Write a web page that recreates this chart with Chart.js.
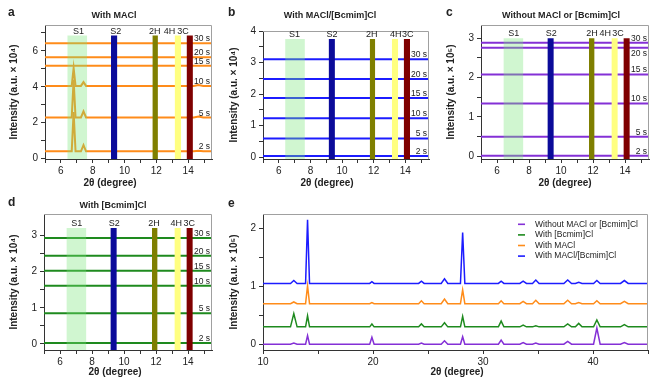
<!DOCTYPE html>
<html>
<head>
<meta charset="utf-8">
<script src="https://cdn.jsdelivr.net/npm/chart.js@4.4.0/dist/chart.umd.min.js"></script>
<style>
  body { margin: 0; background: #fff; }
  #fig { position: relative; width: 657px; height: 382px; overflow: hidden;
         font-family: 'Liberation Sans', Arial, sans-serif; color: #222; }
  #fig canvas { position: absolute; }
  .tag { position: absolute; font-weight: bold; font-size: 12px; line-height: 13px; }
  .ttl { position: absolute; font-weight: bold; font-size: 9px; line-height: 10px;
         transform: translateX(-50%); white-space: nowrap; }
  .xt  { position: absolute; font-weight: bold; font-size: 10px; line-height: 12px;
         transform: translateX(-50%); white-space: nowrap; }
</style>
</head>
<body>
<div id="fig">
  <canvas id="pa" width="220" height="190" style="left:0;top:0"></canvas>
  <canvas id="pb" width="220" height="190" style="left:220px;top:0"></canvas>
  <canvas id="pc" width="220" height="190" style="left:437px;top:0"></canvas>
  <canvas id="pd" width="220" height="192" style="left:0;top:190px"></canvas>
  <canvas id="pe" width="437" height="192" style="left:220px;top:190px"></canvas>

  <div class="tag" style="left:8px;top:6px">a</div>
  <div class="tag" style="left:228px;top:6px">b</div>
  <div class="tag" style="left:446px;top:6px">c</div>
  <div class="tag" style="left:8px;top:196px">d</div>
  <div class="tag" style="left:228px;top:197px">e</div>

  <div class="ttl" style="left:114px;top:10px">With MACl</div>
  <div class="ttl" style="left:330px;top:10px">With MACl/[Bcmim]Cl</div>
  <div class="ttl" style="left:561px;top:10px">Without MACl or [Bcmim]Cl</div>
  <div class="ttl" style="left:113px;top:200px">With [Bcmim]Cl</div>

  <div class="xt" style="left:110px;top:177px">2θ (degree)</div>
  <div class="xt" style="left:327px;top:177px">2θ (degree)</div>
  <div class="xt" style="left:565px;top:177px">2θ (degree)</div>
  <div class="xt" style="left:115px;top:366px">2θ (degree)</div>
  <div class="xt" style="left:457px;top:366px">2θ (degree)</div>
</div>

<script>
// ---------- data ----------
// panels a-d: in-situ scans between 5 and 15.5 degrees
const xWindow = [5, 15.5];
const phaseNames = ['S1', 'S2', '2H', '4H', '3C'];
const phaseFrom = [6.4, 9.15, 11.75, 13.15, 13.9];
const phaseTo = [7.65, 9.55, 12.1, 13.55, 14.3];
const timeLabels = ['2 s', '5 s', '10 s', '15 s', '20 s', '30 s'];

// baseline of each time trace (a, b, d in 10^4, c in 10^5)
const maclBase = [0.41, 2.29, 4.05, 5.17, 5.65, 6.43];
const mixBase = [0.03, 0.59, 1.23, 1.87, 2.48, 3.10];
const noneBase = [0.01, 0.49, 1.34, 2.08, 2.76, 2.89];
const bcmBase = [0.03, 0.85, 1.61, 2.02, 2.44, 2.93];

// panel a: S1 reflections (position, top of each trace)
const maclPeakPos = [6.8, 7.42, 14.65];
const maclPeakWidth = [0.12, 0.16, 0.3];
const maclPeakTop = [
  [2.60, 0.75, 0.44],
  [4.39, 2.63, 2.34],
  [5.04, 4.26, 4.10],
  [], [], []
];

// panel e: final films, offset traces (10^5)
const eSeries = ['Without MACl or [Bcmim]Cl', 'With [Bcmim]Cl', 'With MACl', 'With MACl/[Bcmim]Cl'];
const eBase = [0.0, 0.30, 0.70, 1.05];
const ePeakPos = [12.8, 14.05, 19.9, 24.4, 26.5, 28.15, 31.65, 33.65, 34.8, 37.7, 38.7, 40.35, 42.85];
const ePeakWidth = [0.3, 0.18, 0.2, 0.25, 0.3, 0.2, 0.25, 0.3, 0.3, 0.35, 0.3, 0.3, 0.35];
const eNoneTop = [0.02, 0.15, 0.12, 0.02, 0.06, 0.13, 0.07, 0.03, 0.02, 0.05, 0.0, 0.28, 0.03];
const eBcmTop = [0.53, 0.49, 0.35, 0.35, 0.37, 0.48, 0.40, 0.33, 0.32, 0.35, 0.36, 0.42, 0.34];
const eMaclTop = [0.73, 1.01, 0.72, 0.75, 0.78, 0.94, 0.75, 0.74, 0.76, 0.76, 0.72, 0.75, 0.74];
const eMixTop = [1.10, 2.15, 1.08, 1.09, 1.13, 1.93, 1.09, 1.09, 1.11, 1.11, 1.07, 1.10, 1.10];

// ticks
const smallXTicks = [5, 6, 7, 8, 9, 10, 11, 12, 13, 14, 15];
const smallXLabels = [6, 8, 10, 12, 14];
const aYTicks = [0, 1, 2, 3, 4, 5, 6, 7];
const aYLabels = [0, 2, 4, 6];
const bYTicks = [0, 0.5, 1, 1.5, 2, 2.5, 3, 3.5, 4];
const bYLabels = [0, 1, 2, 3, 4];
const cdYTicks = [0, 0.5, 1, 1.5, 2, 2.5, 3];
const cdYLabels = [0, 1, 2, 3];
const eXTicks = [10, 15, 20, 25, 30, 35, 40, 45];
const eXLabels = [10, 20, 30, 40];
const eYTicks = [0, 0.5, 1, 1.5, 2];
const eYLabels = [0, 1, 2];

// ---------- styles ----------
const FONT = "'Liberation Sans', Arial, sans-serif";
Chart.defaults.font.family = FONT;
Chart.defaults.color = '#222';

const COL = { macl: '#ff8c1a', mix: '#1c1cff', none: '#8430d6', bcm: '#1e8a1e' };
const PHASE_COLORS = ['rgba(120,230,120,0.35)', '#0b0b9a', '#7f7f00', '#ffff80', '#7f0000'];

function buildTrace(base, pos, tops, widths, range) {
  const pts = [{ x: range[0], y: base }];
  pos.forEach((p, k) => {
    const t = tops[k];
    if (t === undefined || t <= base) return;
    pts.push({ x: p - widths[k], y: base }, { x: p, y: t }, { x: p + widths[k], y: base });
  });
  pts.push({ x: range[1], y: base });
  return pts;
}

function phaseBands(top, yMin) {
  return phaseNames.map((n, i) => ({
    label: n,
    data: [{ x: phaseFrom[i], y: top }, { x: phaseTo[i], y: top }],
    backgroundColor: PHASE_COLORS[i],
    borderColor: 'rgba(0,0,0,0)',
    fill: { value: yMin },
    order: 0
  }));
}

function timeTraces(bases, color, peaksFor) {
  return bases.map((b, i) => ({
    label: timeLabels[i],
    data: peaksFor ? peaksFor(b, i) : buildTrace(b, [], [], [], xWindow),
    borderColor: color,
    borderWidth: 2,
    fill: false,
    order: 1
  }));
}

// labels, frame and inner legend
const marksPlugin = {
  id: 'marks',
  afterDatasetsDraw(chart, args, opts) {
    const { ctx, chartArea: ca } = chart;
    const x = chart.scales.x, y = chart.scales.y;
    ctx.save();
    ctx.strokeStyle = '#a0a0a0';
    ctx.lineWidth = 1;
    ctx.beginPath();
    ctx.moveTo(ca.left, Math.round(ca.top) + 0.5);
    ctx.lineTo(Math.round(ca.right) - 0.5, Math.round(ca.top) + 0.5);
    ctx.lineTo(Math.round(ca.right) - 0.5, ca.bottom);
    ctx.stroke();

    ctx.fillStyle = '#222';
    if (opts.phaseX) {
      ctx.font = '9px ' + FONT;
      ctx.textAlign = 'center';
      ctx.textBaseline = 'alphabetic';
      opts.phaseX.forEach((v, i) => {
        ctx.fillText(phaseNames[i], x.getPixelForValue(v), y.getPixelForValue(opts.bandTop) - 2);
      });
    }
    if (opts.base) {
      ctx.font = '8.5px ' + FONT;
      ctx.textAlign = 'right';
      opts.base.forEach((b, i) => {
        const py = y.getPixelForValue(b);
        const below = (opts.below || []).includes(i);
        ctx.textBaseline = below ? 'top' : 'alphabetic';
        ctx.fillText(timeLabels[i], ca.right - 2, below ? py + 2 : py - 2);
      });
    }
    if (opts.legend) {
      ctx.font = '8.5px ' + FONT;
      ctx.textAlign = 'left';
      ctx.textBaseline = 'middle';
      chart.data.datasets.forEach((ds, i) => {
        const yy = ca.top + opts.legend.top + i * opts.legend.gap;
        const xx = ca.right - opts.legend.right;
        ctx.strokeStyle = ds.borderColor;
        ctx.lineWidth = 1.6;
        ctx.beginPath();
        ctx.moveTo(xx, yy);
        ctx.lineTo(xx + 7, yy);
        ctx.stroke();
        ctx.fillText(ds.label, xx + 17, yy);
      });
    }
    ctx.restore();
  }
};

function makePanel(id, o) {
  const axisLines = {
    border: { display: true, color: '#333', width: 1 },
    grid: { drawOnChartArea: false, drawTicks: true, tickLength: 4, tickColor: '#333' }
  };
  return new Chart(document.getElementById(id), {
    type: 'line',
    data: { datasets: o.datasets },
    options: {
      responsive: false,
      animation: false,
      devicePixelRatio: 1,
      events: [],
      layout: { padding: { top: o.top, right: o.right, left: 0, bottom: 0 } },
      elements: { point: { radius: 0 }, line: { tension: 0 } },
      plugins: { legend: { display: false }, tooltip: { enabled: false }, marks: o.marks },
      scales: {
        x: {
          type: 'linear', min: o.xMin, max: o.xMax, z: 1,
          afterFit: s => { s.height = o.axisH; },
          afterBuildTicks: s => { s.ticks = o.xTicks.map(v => ({ value: v })); },
          ticks: {
            autoSkip: false, maxRotation: 0, padding: 2, font: { size: 10 }, color: '#222',
            callback: v => (o.xLabels.includes(v) ? String(v) : '')
          },
          ...axisLines
        },
        y: {
          type: 'linear', min: o.yMin, max: o.yMax, z: 1,
          afterFit: s => { s.width = o.axisW; },
          afterBuildTicks: s => { s.ticks = o.yTicks.map(v => ({ value: v })); },
          ticks: {
            autoSkip: false, padding: 3, font: { size: 10 }, color: '#222',
            callback: v => (o.yLabels.includes(v) ? String(v) : '')
          },
          title: {
            display: true, text: o.yTitle, color: '#222',
            font: { size: 10, weight: 'bold' }, padding: { top: 8, bottom: 0 }
          },
          ...axisLines
        }
      }
    },
    plugins: [marksPlugin]
  });
}

// ---------- panels ----------
makePanel('pa', {
  axisW: 45, axisH: 31, top: 25, right: 8,
  xMin: xWindow[0], xMax: xWindow[1], xTicks: smallXTicks, xLabels: smallXLabels,
  yMin: -0.02, yMax: 7.44, yTicks: aYTicks, yLabels: aYLabels,
  yTitle: 'Intensity (a.u. × 10⁴)',
  datasets: [
    ...phaseBands(6.85, -0.02),
    ...timeTraces(maclBase, COL.macl, (b, i) => buildTrace(b, maclPeakPos, maclPeakTop[i], maclPeakWidth, xWindow))
  ],
  marks: { phaseX: [7.1, 9.45, 11.9, 12.83, 13.68], bandTop: 6.85, base: maclBase }
});

makePanel('pb', {
  axisW: 43, axisH: 31, top: 31, right: 11,
  xMin: xWindow[0], xMax: xWindow[1], xTicks: smallXTicks, xLabels: smallXLabels,
  yMin: -0.063, yMax: 4.0, yTicks: bYTicks, yLabels: bYLabels,
  yTitle: 'Intensity (a.u. × 10⁴)',
  datasets: [...phaseBands(3.75, -0.063), ...timeTraces(mixBase, COL.mix)],
  marks: { phaseX: [7.0, 9.37, 11.88, 13.4, 14.15], bandTop: 3.75, base: mixBase }
});

makePanel('pc', {
  axisW: 44, axisH: 31, top: 25, right: 8,
  xMin: xWindow[0], xMax: xWindow[1], xTicks: smallXTicks, xLabels: smallXLabels,
  yMin: -0.076, yMax: 3.34, yTicks: cdYTicks, yLabels: cdYLabels,
  yTitle: 'Intensity (a.u. × 10⁵)',
  datasets: [...phaseBands(3.0, -0.076), ...timeTraces(noneBase, COL.none)],
  marks: { phaseX: [7.04, 9.39, 11.94, 12.77, 13.56], bandTop: 3.0, base: noneBase, below: [4] }
});

makePanel('pd', {
  axisW: 44, axisH: 32, top: 24, right: 8,
  xMin: xWindow[0], xMax: xWindow[1], xTicks: smallXTicks, xLabels: smallXLabels,
  yMin: -0.166, yMax: 3.59, yTicks: cdYTicks, yLabels: cdYLabels,
  yTitle: 'Intensity (a.u. × 10⁴)',
  datasets: [...phaseBands(3.2, -0.166), ...timeTraces(bcmBase, COL.bcm)],
  marks: { phaseX: [7.04, 9.39, 11.88, 13.27, 14.08], bandTop: 3.2, base: bcmBase }
});

const eTops = [eNoneTop, eBcmTop, eMaclTop, eMixTop];
const eColors = [COL.none, COL.bcm, COL.macl, COL.mix];
makePanel('pe', {
  axisW: 43, axisH: 32, top: 24, right: 9,
  xMin: 10, xMax: 45, xTicks: eXTicks, xLabels: eXLabels,
  yMin: -0.1, yMax: 2.25, yTicks: eYTicks, yLabels: eYLabels,
  yTitle: 'Intensity (a.u. × 10⁵)',
  datasets: eSeries.map((name, i) => ({
    label: name,
    data: buildTrace(eBase[i], ePeakPos, eTops[i], ePeakWidth, [10, 45]),
    borderColor: eColors[i],
    borderWidth: 1.5,
    fill: false
  })),
  marks: { legend: { top: 10.3, gap: 10.6, right: 130 } }
});
</script>
</body>
</html>
